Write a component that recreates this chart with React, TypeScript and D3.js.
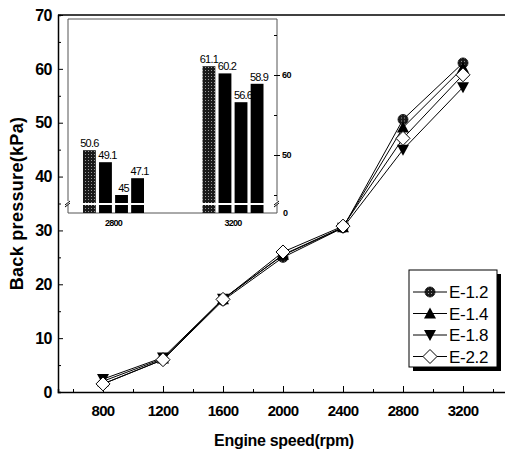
import React, { useEffect, useRef } from 'react';
import * as d3 from 'd3';

const speeds = [800, 1200, 1600, 2000, 2400, 2800, 3200];
const seriesNames = ['E-1.2', 'E-1.4', 'E-1.8', 'E-2.2'];
const e12 = [1.5, 6.0, 17.0, 25.0, 30.5, 50.6, 61.1];
const e14 = [2.0, 6.2, 17.2, 25.5, 30.6, 49.1, 60.2];
const e18 = [2.4, 6.4, 17.3, 25.4, 30.5, 45.0, 56.6];
const e22 = [1.5, 6.0, 17.2, 26.0, 30.8, 47.1, 58.9];
const seriesValues = [e12, e14, e18, e22];

const insetGroups = ['2800', '3200'];
const inset2800 = [50.6, 49.1, 45, 47.1];
const inset3200 = [61.1, 60.2, 56.6, 58.9];
const insetValues = [inset2800, inset3200];

const xTicks = [800, 1200, 1600, 2000, 2400, 2800, 3200];
const yTicks = [0, 10, 20, 30, 40, 50, 60, 70];

const App = () => {
  const svgRef = useRef<SVGSVGElement>(null);

  useEffect(() => {
    const svg = d3.select(svgRef.current);
    svg.selectAll('*').remove();

    const width = 505;
    const height = 455;
    const margin = { top: 15, right: -3, bottom: 63, left: 58 };
    const font = 'Liberation Sans, Arial, sans-serif';

    const defs = svg.append('defs');
    const pat = defs.append('pattern')
      .attr('id', 'dots')
      .attr('width', 3).attr('height', 3)
      .attr('patternUnits', 'userSpaceOnUse');
    pat.append('rect').attr('width', 3).attr('height', 3).attr('fill', '#1a1a1a');
    pat.append('rect').attr('x', 1).attr('y', 1).attr('width', 1).attr('height', 1).attr('fill', '#9a9a9a');

    const x = d3.scaleLinear().domain([500, 3500]).range([margin.left, width - margin.right]);
    const y = d3.scaleLinear().domain([0, 70]).range([height - margin.bottom, margin.top]);

    // frame
    svg.append('line')
      .attr('x1', margin.left).attr('x2', width)
      .attr('y1', y(70)).attr('y2', y(70))
      .attr('stroke', '#000').attr('stroke-width', 1.5);

    const xAxis = svg.append('g')
      .attr('transform', `translate(0,${y(0)})`)
      .call(d3.axisBottom(x).tickValues(d3.range(600, 3500, 200)).tickSize(-3).tickFormat(() => ''));
    xAxis.selectAll('.tick line').filter((d: any) => d % 400 === 0).attr('y2', -6);
    xAxis.select('.domain').attr('stroke-width', 1.5);

    svg.append('g')
      .selectAll('text')
      .data(xTicks)
      .join('text')
      .attr('x', d => x(d))
      .attr('y', y(0) + 24)
      .attr('text-anchor', 'middle')
      .attr('font-family', font)
      .attr('font-weight', 'bold')
      .attr('font-size', 15)
      .attr('letter-spacing', -0.7)
      .text(d => d);

    const yAxis = svg.append('g')
      .attr('transform', `translate(${margin.left},0)`)
      .call(d3.axisLeft(y).tickValues(d3.range(0, 71, 5)).tickSize(-3).tickFormat(() => ''));
    yAxis.selectAll('.tick line').filter((d: any) => d % 10 === 0).attr('x2', 5);
    yAxis.select('.domain').attr('stroke-width', 1.5);

    svg.append('g')
      .selectAll('text')
      .data(yTicks)
      .join('text')
      .attr('x', margin.left - 6)
      .attr('y', d => y(d))
      .attr('dy', '0.36em')
      .attr('text-anchor', 'end')
      .attr('font-family', font)
      .attr('font-weight', 'bold')
      .attr('font-size', 16)
      .attr('letter-spacing', -0.5)
      .text(d => d);

    svg.append('text')
      .attr('transform', `translate(23,${(y(0) + y(70)) / 2}) rotate(-90)`)
      .attr('text-anchor', 'middle')
      .attr('font-family', font)
      .attr('font-weight', 'bold')
      .attr('font-size', 18)
      .attr('letter-spacing', 0.3)
      .text('Back pressure(kPa)');

    svg.append('text')
      .attr('x', 284)
      .attr('y', 446)
      .attr('text-anchor', 'middle')
      .attr('font-family', font)
      .attr('font-weight', 'bold')
      .attr('font-size', 16)
      .attr('letter-spacing', -0.3)
      .text('Engine speed(rpm)');

    // inset
    const ix0 = 68, ix1 = 277;
    const yUp = d3.scaleLinear().domain([44, 67]).range([203, 19]);
    const yLow = d3.scaleLinear().domain([0, 5]).range([213, 205]);
    const gIn = svg.append('g');
    gIn.append('rect')
      .attr('x', ix0).attr('y', 19).attr('width', ix1 - ix0).attr('height', 194)
      .attr('fill', '#fff');
    const frame = (x1: number, y1: number, x2: number, y2: number) =>
      gIn.append('line').attr('x1', x1).attr('x2', x2).attr('y1', y1).attr('y2', y2)
        .attr('stroke', '#555').attr('stroke-width', 1);
    frame(ix0, 19, ix1, 19);
    frame(ix0, 19, ix0, 201);
    frame(ix1, 19, ix1, 201);
    frame(ix0, 213, ix1, 213);
    frame(ix0, 205, ix0, 213);
    frame(ix1, 205, ix1, 213);
    // break marks
    [ix0, ix1].forEach(bx => {
      gIn.append('path')
        .attr('d', `M${bx - 3},${205} L${bx + 2},${201} M${bx - 3},${207} L${bx + 2},${203}`)
        .attr('stroke', '#000').attr('stroke-width', 1).attr('fill', 'none');
    });
    // right axis ticks
    const rAxis = gIn.append('g')
      .attr('transform', `translate(${ix1},0)`)
      .call(d3.axisRight(yUp).tickValues([45, 50, 55, 60, 65]).tickSize(-3).tickFormat(() => ''));
    rAxis.select('.domain').remove();
    rAxis.selectAll('.tick line').filter((d: any) => d % 10 === 0).attr('x1', 3).attr('x2', -3);
    gIn.selectAll('text.rt')
      .data([50, 60])
      .join('text')
      .attr('class', 'rt')
      .attr('x', ix1 + 5)
      .attr('y', d => yUp(d))
      .attr('dy', '0.35em')
      .attr('font-family', font)
      .attr('font-weight', 'bold')
      .attr('font-size', 9)
      .attr('letter-spacing', -0.6)
      .text(d => d);
    gIn.append('text')
      .attr('x', ix1 + 6).attr('y', yLow(0)).attr('dy', '0.35em')
      .attr('font-family', font).attr('font-weight', 'bold').attr('font-size', 9)
      .text('0');

    const xg = d3.scalePoint().domain(insetGroups).range([113.5, 233]);
    const groupW = 61;
    const xb = d3.scaleBand().domain(seriesNames).range([-groupW / 2, groupW / 2]).paddingInner(0.2);
    insetValues.forEach((vals, gi) => {
      const grp = insetGroups[gi];
      const gx = xg(grp)!;
      vals.forEach((v, si) => {
        const bx = gx + xb(seriesNames[si])!;
        const fill = si === 0 ? 'url(#dots)' : '#000';
        gIn.append('rect')
          .attr('x', bx).attr('y', yUp(v))
          .attr('width', xb.bandwidth()).attr('height', yUp(44) - yUp(v))
          .attr('fill', fill);
        gIn.append('rect')
          .attr('x', bx).attr('y', yLow(5))
          .attr('width', xb.bandwidth()).attr('height', yLow(0) - yLow(5))
          .attr('fill', fill);
        gIn.append('text')
          .attr('x', bx + xb.bandwidth() / 2 + (si === 0 ? 0 : 2))
          .attr('y', yUp(v) - 3)
          .attr('text-anchor', 'middle')
          .attr('font-family', font)
          .attr('font-size', 11)
          .attr('letter-spacing', -0.8)
          .text(v);
      });
      gIn.append('text')
        .attr('x', gx)
        .attr('y', 226)
        .attr('text-anchor', 'middle')
        .attr('font-family', font)
        .attr('font-weight', 'bold')
        .attr('font-size', 9)
        .attr('letter-spacing', -0.8)
        .text(grp);
    });

    // series
    const symbols = [
      (g: any) => g.append('circle').attr('r', 5).attr('fill', 'url(#dots)').attr('stroke', '#000').attr('stroke-width', 0.8),
      (g: any) => g.append('path').attr('d', 'M0,-6L6,5L-6,5Z').attr('fill', '#000'),
      (g: any) => g.append('path').attr('d', 'M0,6L6,-5L-6,-5Z').attr('fill', '#000'),
      (g: any) => g.append('path').attr('d', 'M0,-7L7,0L0,7L-7,0Z').attr('fill', '#fff').attr('stroke', '#000').attr('stroke-width', 1),
    ];

    const line = d3.line<number>()
      .x((d, i) => x(speeds[i]))
      .y(d => y(d));

    seriesValues.forEach(vals => {
      svg.append('path')
        .datum(vals)
        .attr('fill', 'none')
        .attr('stroke', '#000')
        .attr('stroke-width', 1)
        .attr('d', line);
    });
    seriesValues.forEach((vals, si) => {
      vals.forEach((v, i) => {
        const g = svg.append('g').attr('transform', `translate(${x(speeds[i])},${y(v)})`);
        symbols[si](g);
      });
    });

    // legend
    const lx = 409, ly = 270, lw = 88, lh = 97;
    svg.append('rect').attr('x', lx + 4).attr('y', ly + 4).attr('width', lw).attr('height', lh).attr('fill', '#000');
    svg.append('rect').attr('x', lx).attr('y', ly).attr('width', lw).attr('height', lh)
      .attr('fill', '#fff').attr('stroke', '#000').attr('stroke-width', 1);
    seriesNames.forEach((name, i) => {
      const yy = ly + 22 + i * 21.5;
      svg.append('line').attr('x1', lx + 4).attr('x2', lx + 38).attr('y1', yy).attr('y2', yy)
        .attr('stroke', '#000').attr('stroke-width', 1);
      const g = svg.append('g').attr('transform', `translate(${lx + 21},${yy})`);
      symbols[i](g);
      svg.append('text')
        .attr('x', lx + 40).attr('y', yy).attr('dy', '0.36em')
        .attr('font-family', font)
        .attr('font-size', 17)
        .attr('letter-spacing', -0.3)
        .text(name);
    });
  }, []);

  return (
    <div>
      <svg ref={svgRef} width={505} height={455} style={{ position: 'absolute', left: 0, top: 0 }}></svg>
    </div>
  );
};

export default App;
